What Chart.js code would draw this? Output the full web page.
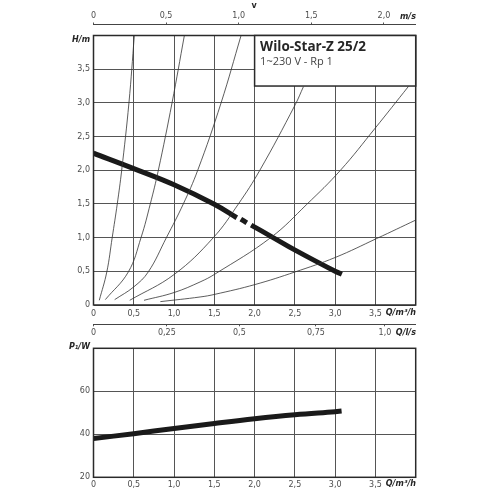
<!DOCTYPE html>
<html><head><meta charset="utf-8">
<script src="https://cdn.jsdelivr.net/npm/chart.js@4"></script>
<style>
html,body{margin:0;padding:0;background:#fff;width:490px;height:490px;overflow:hidden}
canvas{position:absolute;left:0}
#top{top:0}
#bot{top:340px}
</style></head><body>
<canvas id="top" width="490" height="340"></canvas>
<canvas id="bot" width="490" height="150"></canvas>
<script>
const qTicks=[0,0.5,1,1.5,2,2.5,3,3.5];
const qLabels=["0","0,5","1,0","1,5","2,0","2,5","3,0","3,5"];
const hTicks=[0,0.5,1,1.5,2,2.5,3,3.5];
const hLabels=["0","0,5","1,0","1,5","2,0","2,5","3,0","3,5"];
const vTicks=[0,0.5,1,1.5,2];
const vLabels=["0","0,5","1,0","1,5","2,0"];
const lsTicks=[0,0.253,0.503,0.767,1.005];
const lsLabels=["0","0,25","0,5","0,75","1,0"];
const pTicks=[20,40,60];
const pLabels=["20","40","60"];

const curve1Q=[0.072,0.165,0.232,0.295,0.35,0.44,0.507];
const curve1H=[0.07,0.49,1.0,1.5,2.0,3.0,4.0];
const curve2Q=[0.147,0.432,0.59,0.705,0.805,0.975,1.128];
const curve2H=[0.08,0.49,1.0,1.5,2.0,3.0,4.0];
const curve3Q=[0.263,0.499,0.68,0.905,1.115,1.294,1.584,1.832];
const curve3H=[0.08,0.268,0.491,1.0,1.5,2.0,3.0,4.0];
const curve4Q=[0.45,1.0,1.488,1.799,2.065,2.503,2.606];
const curve4H=[0.07,0.452,1.0,1.5,2.0,2.97,3.24];
const curve5Q=[0.627,1.0,1.323,1.509,2.2,2.648,3.066,3.497,3.91];
const curve5H=[0.07,0.185,0.342,0.46,1.0,1.494,2.0,2.625,3.244];
const curve6Q=[0.83,1.323,1.509,2.006,2.503,3.0,3.518,4.0];
const curve6H=[0.05,0.119,0.159,0.304,0.491,0.705,0.988,1.26];

const mainAQ=[0,0.5,1,1.5,1.779];
const mainAH=[2.253,2.025,1.785,1.495,1.295];
const mainBQ=[1.829,1.903];
const mainBH=[1.275,1.22];
const mainCQ=[1.957,2.214,2.503,3.0,3.083];
const mainCH=[1.186,1.012,0.814,0.5,0.457];

const powerQ=[0,0.5,1,1.5,2,2.5,3,3.08];
const powerW=[38.0,40.3,42.7,45.05,47.25,49.1,50.5,50.8];

const titleText="Wilo-Star-Z 25/2";
const subText="1~230 V - Rp 1";

Chart.defaults.font.family="'DejaVu Sans'";
Chart.defaults.font.size=8;
Chart.defaults.color="#4d4d4d";
const GRID="#555";
const INK="#2a2a2a";
const tickFont={family:"'DejaVu Sans'",size:8};
const unitFont="italic bold 8px 'DejaVu Sans'";
const upFont="bold 8px 'DejaVu Sans'";

function pts(x,y){return x.map((v,i)=>({x:v,y:y[i]}));}
function thin(x,y){return {data:pts(x,y),borderColor:"#333",borderWidth:0.8,pointRadius:0,tension:0.4,fill:false};}
function thick(x,y){return {data:pts(x,y),borderColor:"#1a1a1a",borderWidth:5,pointRadius:0,borderCapStyle:"butt",tension:0.4,fill:false};}
function setTicks(vals){return s=>{s.ticks=vals.map(v=>({value:v}));};}
function fromLabels(l){return (v,i)=>l[i];}
function fit(prop,size){return s=>{s[prop]=size;};}

function text(ctx,str,x,y,font,color,align){
  ctx.save();ctx.font=font;ctx.fillStyle=color;ctx.textAlign=align||"left";ctx.textBaseline="middle";
  ctx.fillText(str,x,y);ctx.restore();
}
const frame={id:"frame",afterDatasetsDraw(c,a,o){
  const {left,top,right,bottom}=c.chartArea;const g=c.ctx;
  g.save();g.strokeStyle=INK;g.lineWidth=1.5;g.strokeRect(left,top,right-left,bottom-top);g.restore();
  if(o.title){
    g.save();g.fillStyle="#fff";g.strokeStyle=INK;g.lineWidth=1.5;
    const bx=c.scales.x.getPixelForValue(2),by=c.scales.y.getPixelForValue(3.25);
    g.fillRect(bx,top,right-bx,by-top);g.strokeRect(bx,top,right-bx,by-top);g.restore();
    text(g,titleText,bx+5.5,47,"bold 13.5px 'Open Sans'","#262626");
    text(g,subText,bx+5.5,62,"11px 'Open Sans'","#444");
  }
  (o.units||[]).forEach(u=>text(g,u[0],u[1],u[2],u[4]||unitFont,"#262626",u[3]));
}};

new Chart(document.getElementById("top"),{
  type:"line",
  data:{datasets:[thin(curve1Q,curve1H),thin(curve2Q,curve2H),thin(curve3Q,curve3H),thin(curve4Q,curve4H),thin(curve5Q,curve5H),thin(curve6Q,curve6H),
    thick(mainAQ,mainAH),thick(mainBQ,mainBH),thick(mainCQ,mainCH)]},
  plugins:[frame],
  options:{responsive:false,animation:false,devicePixelRatio:1,
    layout:{padding:{left:0,right:74.3,top:0,bottom:0}},
    plugins:{legend:{display:false},tooltip:{enabled:false},
      frame:{title:true,units:[["H/m",90,40,"right"],["v",254,5.5,"center",upFont],["m/s",408,16.7,"center"],["Q/m³/h",416,312.7,"right"],["Q/l/s",416,333,"right"]]}},
    scales:{
      x:{type:"linear",position:"bottom",min:0,max:4,weight:0,afterFit:fit("height",19.3),afterBuildTicks:setTicks(qTicks),
        grid:{color:GRID,lineWidth:1,drawTicks:false},border:{display:false},
        ticks:{callback:fromLabels(qLabels),autoSkip:false,maxRotation:0,padding:4,font:tickFont}},
      ls:{type:"linear",position:"bottom",min:0,max:1.111,weight:1,afterFit:fit("height",15.7),afterBuildTicks:setTicks(lsTicks),
        grid:{drawOnChartArea:false,color:GRID,tickLength:2,tickColor:GRID},border:{display:true,color:"#444",width:1},
        ticks:{callback:fromLabels(lsLabels),autoSkip:false,maxRotation:0,padding:2,font:tickFont}},
      y:{type:"linear",position:"left",min:0,max:4,afterFit:fit("width",93.5),afterBuildTicks:setTicks(hTicks),
        grid:{color:GRID,lineWidth:1,drawTicks:false},border:{display:false},
        ticks:{callback:fromLabels(hLabels),autoSkip:false,padding:3.5,font:tickFont}},
      gap:{type:"linear",position:"top",min:0,max:1,weight:0,afterFit:fit("height",11),
        display:true,grid:{display:false},border:{display:false},ticks:{display:false}},
      v:{type:"linear",position:"top",min:0,max:2.219,weight:1,afterFit:fit("height",24.5),afterBuildTicks:setTicks(vTicks),
        grid:{drawOnChartArea:false,color:GRID,tickLength:2,tickColor:GRID},border:{display:true,color:"#444",width:1},
        ticks:{callback:fromLabels(vLabels),autoSkip:false,maxRotation:0,padding:2,font:tickFont}}
    }}
});

new Chart(document.getElementById("bot"),{
  type:"line",
  data:{datasets:[thick(powerQ,powerW)]},
  plugins:[frame],
  options:{responsive:false,animation:false,devicePixelRatio:1,
    layout:{padding:{left:0,right:74.3,top:3,bottom:0}},
    plugins:{legend:{display:false},tooltip:{enabled:false},
      frame:{title:false,units:[["P₁/W",90,7,"right"],["Q/m³/h",416,144,"right"]]}},
    scales:{
      x:{type:"linear",position:"bottom",min:0,max:4,afterFit:fit("height",12.7),afterBuildTicks:setTicks(qTicks),
        grid:{color:GRID,lineWidth:1,drawTicks:false},border:{display:false},
        ticks:{callback:fromLabels(qLabels),autoSkip:false,maxRotation:0,padding:3,font:tickFont}},
      y:{type:"linear",position:"left",min:20,max:80,afterFit:fit("width",93.5),afterBuildTicks:setTicks(pTicks),
        grid:{color:GRID,lineWidth:1,drawTicks:false},border:{display:false},
        ticks:{callback:fromLabels(pLabels),autoSkip:false,padding:3.5,font:tickFont}}
    }}
});
</script>
</body></html>
